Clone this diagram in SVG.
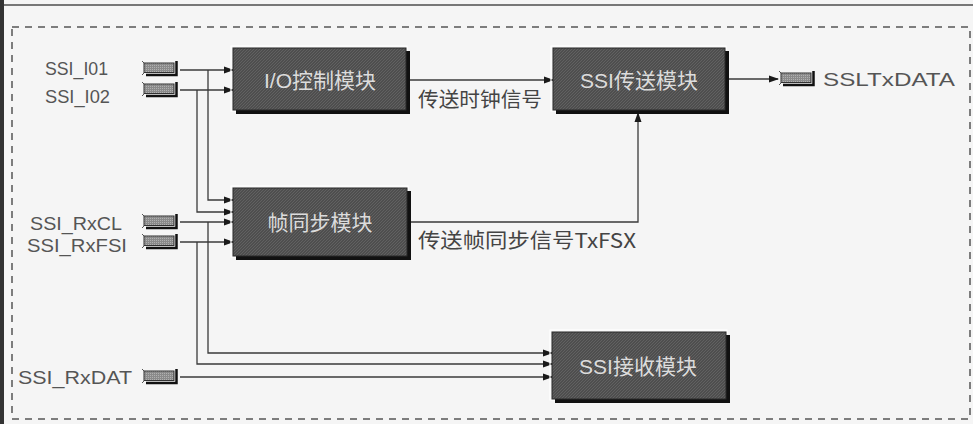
<svg xmlns="http://www.w3.org/2000/svg" width="973" height="424" viewBox="0 0 973 424">
<style>
.lbl{font-family:"Liberation Sans","Noto Sans CJK SC",sans-serif;font-size:19px;fill:#555}
.cn{font-family:"Noto Sans CJK SC","Liberation Sans",sans-serif;font-size:20px;fill:#444}
.bt{font-family:"Liberation Sans","Noto Sans CJK SC",sans-serif;font-size:21px;fill:#dcdcdc;text-anchor:middle;dominant-baseline:central}
.wire{fill:none;stroke:#3a3a3a;stroke-width:1.3}
.arr{marker-end:url(#arr)}
.boxfill{fill:url(#hatch);stroke:#2a2a2a;stroke-width:1}
.bevel{fill:none;stroke:#ffffff;stroke-width:1.2}
.shadow{fill:#111}
</style>
<defs>
<pattern id="hatch" width="3" height="3" patternUnits="userSpaceOnUse">
<rect width="3" height="3" fill="#4e4e4e"/>
<path d="M0 3L3 0" stroke="#666" stroke-width="0.8"/>
</pattern>
<pattern id="phatch" width="2" height="2" patternUnits="userSpaceOnUse">
<rect width="2" height="2" fill="#8a8a8a"/>
<rect width="1" height="1" fill="#b0b0b0"/>
</pattern>
<marker id="arr" markerWidth="10" markerHeight="8" refX="9" refY="4" orient="auto" markerUnits="userSpaceOnUse">
<path d="M0,0.5 L10,4 L0,7.5 Z" fill="#1a1a1a"/>
</marker>
<g id="pin">
<path d="M0,0 L3,3 M0,14 L3,11" stroke="#555" stroke-width="1"/>
<rect x="2" y="2" width="30" height="9.5" fill="url(#phatch)" stroke="#333" stroke-width="1"/>
<path d="M34.5,0 V14 H4" fill="none" stroke="#111" stroke-width="2.5"/>
</g>
</defs>

<rect width="973" height="424" fill="#f5f5f5"/>
<rect x="0" y="0" width="4" height="424" fill="#333"/>
<line x1="4" y1="5" x2="973" y2="5" stroke="#777" stroke-width="2"/>
<rect x="12" y="27" width="958" height="392" fill="none" stroke="#555" stroke-width="1.5" stroke-dasharray="7,6"/>

<g id="connectors">
<path class="wire arr" d="M180,70 H233"/>
<path class="wire arr" d="M208,70 V200 H233"/>
<path class="wire arr" d="M180,90 H233"/>
<path class="wire arr" d="M197,90 V212 H233"/>
<path class="wire arr" d="M180,222 H233"/>
<path class="wire arr" d="M208,222 V353 H552"/>
<path class="wire arr" d="M180,242 H233"/>
<path class="wire arr" d="M197,242 V364 H552"/>
<path class="wire arr" d="M180,377 H552"/>
<path class="wire arr" d="M409,80 H553"/>
<path class="wire arr" d="M411,222 H638 V113"/>
<path class="wire arr" d="M728,79 H778"/>
<text class="cn" x="418" y="107" textLength="124" lengthAdjust="spacingAndGlyphs">传送时钟信号</text>
<text class="cn" x="418" y="248" textLength="218" lengthAdjust="spacingAndGlyphs">传送帧同步信号TxFSX</text>
</g>

<g id="pin_SSI_I01">
<text class="lbl" x="45" y="75" textLength="63" lengthAdjust="spacingAndGlyphs">SSI_I01</text>
<use href="#pin" x="142" y="61"/>
</g>
<g id="pin_SSI_I02">
<text class="lbl" x="45" y="103" textLength="65" lengthAdjust="spacingAndGlyphs">SSI_I02</text>
<use href="#pin" x="142" y="82"/>
</g>
<g id="pin_SSI_RxCL">
<text class="lbl" x="30" y="230" textLength="92" lengthAdjust="spacingAndGlyphs">SSI_RxCL</text>
<use href="#pin" x="142" y="214"/>
</g>
<g id="pin_SSI_RxFSI">
<text class="lbl" x="27" y="252" textLength="100" lengthAdjust="spacingAndGlyphs">SSI_RxFSI</text>
<use href="#pin" x="142" y="234"/>
</g>
<g id="pin_SSI_RxDAT">
<text class="lbl" x="18" y="384" textLength="114" lengthAdjust="spacingAndGlyphs">SSI_RxDAT</text>
<use href="#pin" x="142" y="369"/>
</g>
<g id="pin_SSLTxDATA">
<use href="#pin" x="779" y="71"/>
<text class="lbl" x="823" y="86" textLength="132" lengthAdjust="spacingAndGlyphs">SSLTxDATA</text>
</g>

<g id="io_ctrl">
<rect class="bevel" x="231" y="46" width="176" height="65"/>
<rect class="shadow" x="236" y="51" width="174" height="63"/>
<rect class="boxfill" x="233" y="48" width="173" height="62"/>
<text class="bt" x="320" y="80">I/O控制模块</text>
</g>
<g id="ssi_tx">
<rect class="bevel" x="551" y="46" width="175" height="65"/>
<rect class="shadow" x="556" y="51" width="173" height="63"/>
<rect class="boxfill" x="553" y="48" width="172" height="62"/>
<text class="bt" x="639" y="80">SSI传送模块</text>
</g>
<g id="frame_sync">
<rect class="bevel" x="231" y="186" width="177" height="71"/>
<rect class="shadow" x="236" y="191" width="175" height="69"/>
<rect class="boxfill" x="233" y="188" width="174" height="68"/>
<text class="bt" x="320" y="222">帧同步模块</text>
</g>
<g id="ssi_rx">
<rect class="bevel" x="550" y="330" width="177" height="70"/>
<rect class="shadow" x="555" y="335" width="175" height="68"/>
<rect class="boxfill" x="552" y="332" width="174" height="67"/>
<text class="bt" x="638" y="366">SSI接收模块</text>
</g>
</svg>
